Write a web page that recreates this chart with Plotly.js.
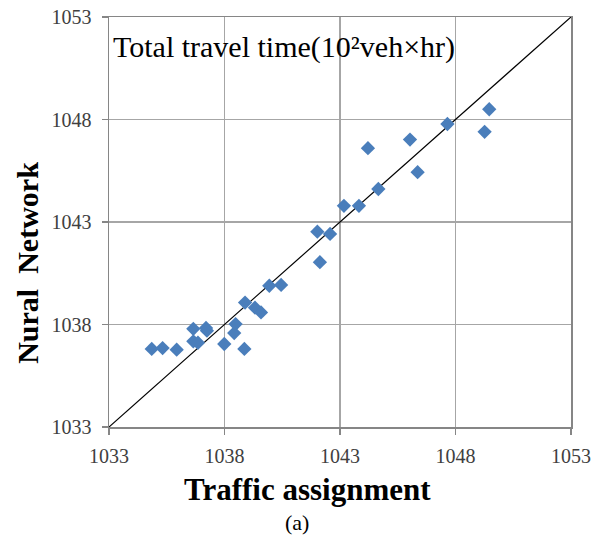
<!DOCTYPE html>
<html>
<head>
<meta charset="utf-8">
<script src="https://cdn.plot.ly/plotly-3.0.1.min.js"></script>
<style>html,body{margin:0;padding:0;background:#fff;}#chart{width:607px;height:535px;}</style>
</head>
<body>
<div id="chart"></div>
<script>
const trafficAssignment = [1034.85, 1035.32, 1035.93, 1036.65, 1037.20, 1037.24, 1036.65, 1036.85, 1037.99, 1038.42, 1038.48, 1038.86, 1038.89, 1039.32, 1039.58, 1039.94, 1040.45, 1042.02, 1042.13, 1042.57, 1043.17, 1043.82, 1044.21, 1044.66, 1046.03, 1046.36, 1047.65, 1049.26, 1049.46];
const nuralNetwork = [1036.81, 1036.85, 1036.77, 1037.79, 1037.83, 1037.70, 1037.18, 1037.11, 1037.05, 1037.58, 1038.02, 1036.81, 1039.07, 1038.82, 1038.59, 1039.89, 1039.93, 1042.53, 1041.04, 1042.42, 1043.79, 1043.79, 1046.60, 1044.61, 1047.02, 1045.43, 1047.78, 1047.40, 1048.50];
const diagonalX = [1033, 1053];
const diagonalY = [1033, 1053];
const tickValues = [1033, 1038, 1043, 1048, 1053];

const serif = 'Liberation Serif';
const tickFont = {family: serif, size: 20, color: '#404040'};
const axisCommon = {
  range: [1033, 1053],
  tickvals: tickValues,
  ticktext: tickValues.map(String),
  showgrid: true,
  gridcolor: '#a6a6a6',
  gridwidth: 1.3,
  showline: true,
  linecolor: '#868686',
  linewidth: 1.5,
  mirror: true,
  ticks: 'outside',
  ticklen: 6,
  tickcolor: '#868686',
  tickwidth: 1.3,
  tickfont: tickFont,
  zeroline: false,
  fixedrange: true
};

const data = [
  {x: diagonalX, y: diagonalY, mode: 'lines', line: {color: '#000', width: 1.2}, hoverinfo: 'skip', showlegend: false},
  {x: trafficAssignment, y: nuralNetwork, mode: 'markers', type: 'scatter',
   marker: {symbol: 'diamond', size: 11, color: '#4a7ebb', line: {width: 0}}, showlegend: false}
];

const layout = {
  width: 607, height: 535,
  margin: {l: 109, r: 36, t: 17, b: 108},
  paper_bgcolor: '#fff', plot_bgcolor: '#fff',
  xaxis: Object.assign({}, axisCommon, {ticklabelstandoff: 4}),
  yaxis: Object.assign({}, axisCommon, {ticklabelstandoff: 6}),
  annotations: [
    {text: 'Total travel time(10²veh×hr)', xref: 'paper', yref: 'paper', x: 0.005, y: 0.928, xanchor: 'left', yanchor: 'middle', showarrow: false,
     font: {family: serif, size: 30, color: '#000'}},
    {text: '<b>Traffic assignment</b>', xref: 'paper', yref: 'paper', x: 0.43, y: -0.152, xanchor: 'center', yanchor: 'middle', showarrow: false,
     font: {family: serif, size: 31, color: '#000'}},
    {text: '(a)', xref: 'paper', yref: 'paper', x: 0.407, y: -0.233, xanchor: 'center', yanchor: 'middle', showarrow: false,
     font: {family: serif, size: 22, color: '#000'}},
    {text: '<b>Nural  Network</b>', xref: 'paper', yref: 'paper', x: -0.177, y: 0.401, xanchor: 'center', yanchor: 'middle', textangle: -90, showarrow: false,
     font: {family: serif, size: 30, color: '#000'}}
  ]
};

Plotly.newPlot('chart', data, layout, {displayModeBar: false, staticPlot: true});
</script>
</body>
</html>
